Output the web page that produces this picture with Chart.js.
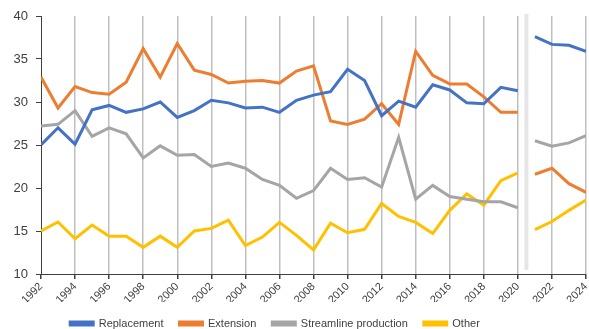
<!DOCTYPE html>
<html>
<head>
<meta charset="utf-8">
<script src="https://cdn.jsdelivr.net/npm/chart.js@4"></script>
<style>
  html, body { margin: 0; padding: 0; background: #fff; }
  #wrap { width: 589px; height: 329px; }
</style>
</head>
<body>
<div id="wrap"><canvas id="chart" width="589" height="329"></canvas></div>
<script>
// years 1992..2024, break between 2020 and 2021
var years = [1992, 1993, 1994, 1995, 1996, 1997, 1998, 1999, 2000, 2001, 2002, 2003, 2004, 2005, 2006, 2007, 2008,
             2009, 2010, 2011, 2012, 2013, 2014, 2015, 2016, 2017, 2018, 2019, 2020, 2021, 2022, 2023, 2024];
var breakYear = 2020.5;

var replacement = [25.0, 27.0, 25.1, 29.1, 29.6, 28.8, 29.2, 30.0, 28.2, 29.0, 30.2, 29.9, 29.3, 29.4, 28.8, 30.2, 30.8,
                   31.2, 33.8, 32.5, 28.4, 30.1, 29.4, 32.0, 31.4, 29.9, 29.8, 31.7, 31.3, 37.6, 36.7, 36.6, 35.9];
var extension = [32.9, 29.3, 31.8, 31.1, 30.9, 32.3, 36.2, 32.9, 36.8, 33.7, 33.2, 32.2, 32.4, 32.5, 32.2, 33.6, 34.2,
                 27.8, 27.4, 28.0, 29.8, 27.4, 35.9, 33.1, 32.1, 32.1, 30.6, 28.8, 28.8, 21.6, 22.3, 20.5, 19.5];
var streamline = [27.2, 27.4, 29.0, 26.0, 27.0, 26.3, 23.5, 24.9, 23.8, 23.9, 22.5, 22.9, 22.3, 21.0, 20.3, 18.8, 19.7,
                  22.3, 21.0, 21.2, 20.1, 25.9, 18.7, 20.3, 19.0, 18.7, 18.4, 18.4, 17.7, 25.5, 24.85, 25.25, 26.1];
var other = [15.0, 16.05, 14.1, 15.7, 14.4, 14.4, 13.1, 14.4, 13.1, 15.0, 15.3, 16.25, 13.3, 14.3, 16.0, 14.5, 12.8,
             15.9, 14.8, 15.2, 18.2, 16.7, 16.0, 14.7, 17.4, 19.3, 18.0, 20.85, 21.75, 15.15, 16.1, 17.4, 18.6];

var seriesNames = ["Replacement", "Extension", "Streamline production", "Other"];
var seriesColors = ["#4472C4", "#ED7D31", "#A5A5A5", "#FFC000"];
var seriesValues = [replacement, extension, streamline, other];

var textColor = "#404040";
var fontFamily = "'Liberation Sans', Arial, sans-serif";

function toPoints(values) {
    var pts = [];
    for (var i = 0; i < years.length; i++) {
        if (years[i] > breakYear && years[i - 1] < breakYear) {
            pts.push({ x: breakYear, y: null });
        }
        pts.push({ x: years[i], y: values[i] });
    }
    return pts;
}

var datasets = [];
for (var s = 0; s < seriesNames.length; s++) {
    datasets.push({
        label: seriesNames[s],
        data: toPoints(seriesValues[s]),
        borderColor: seriesColors[s],
        backgroundColor: seriesColors[s],
        borderWidth: 3,
        pointRadius: 0,
        tension: 0,
        spanGaps: false
    });
}

// light grey band separating history from forecast
var breakBand = {
    id: "breakBand",
    beforeDatasetsDraw: function (chart) {
        var ctx = chart.ctx;
        var area = chart.chartArea;
        var px = chart.scales.x.getPixelForValue(breakYear);
        ctx.save();
        ctx.fillStyle = "#e6e6e6";
        ctx.fillRect(px - 2, area.top - 2, 4, area.bottom - area.top - 2);
        ctx.restore();
    }
};

// legend sits lower and a bit more to the left than chart.js would put it
var legendPlace = {
    id: "legendPlace",
    beforeInit: function (chart) {
        var fit = chart.legend.fit;
        chart.legend.fit = function () {
            fit.call(this);
            this.height -= 10;
        };
    },
    afterLayout: function (chart) {
        chart.legend.left -= 20;
        chart.legend.right -= 20;
    }
};

var ctx = document.getElementById("chart").getContext("2d");
var chart = new Chart(ctx, {
    type: "line",
    data: { datasets: datasets },
    plugins: [breakBand, legendPlace],
    options: {
        responsive: false,
        animation: false,
        layout: { padding: { left: 4, right: 3, top: 16, bottom: 0 } },
        plugins: {
            legend: {
                position: "bottom",
                labels: {
                    boxWidth: 23,
                    boxHeight: 3,
                    padding: 16,
                    color: textColor,
                    font: { family: fontFamily, size: 11 }
                }
            },
            tooltip: { enabled: false }
        },
        scales: {
            x: {
                type: "linear",
                min: 1992,
                max: 2024,
                ticks: {
                    stepSize: 2,
                    autoSkip: false,
                    minRotation: 45,
                    maxRotation: 45,
                    color: textColor,
                    padding: 1,
                    font: { family: fontFamily, size: 11 },
                    callback: function (v) { return String(v); }
                },
                grid: {
                    color: function (c) { return c.tick && c.tick.value === 1992 ? "rgba(0,0,0,0)" : "#bfbfbf"; },
                    lineWidth: 1.5,
                    tickColor: textColor,
                    tickLength: 5
                },
                border: { color: textColor, width: 1 },
                afterFit: function (scale) {
                    scale.height = 28;
                    scale.paddingLeft = 0;
                    scale.paddingRight = 0;
                }
            },
            y: {
                min: 10,
                max: 40,
                ticks: {
                    stepSize: 5,
                    color: textColor,
                    padding: 8,
                    font: { family: fontFamily, size: 13 }
                },
                grid: {
                    drawOnChartArea: false,
                    tickColor: textColor,
                    tickLength: 5
                },
                border: { color: textColor, width: 1 },
                afterFit: function (scale) { scale.width = 37; }
            }
        }
    }
});
</script>
</body>
</html>
